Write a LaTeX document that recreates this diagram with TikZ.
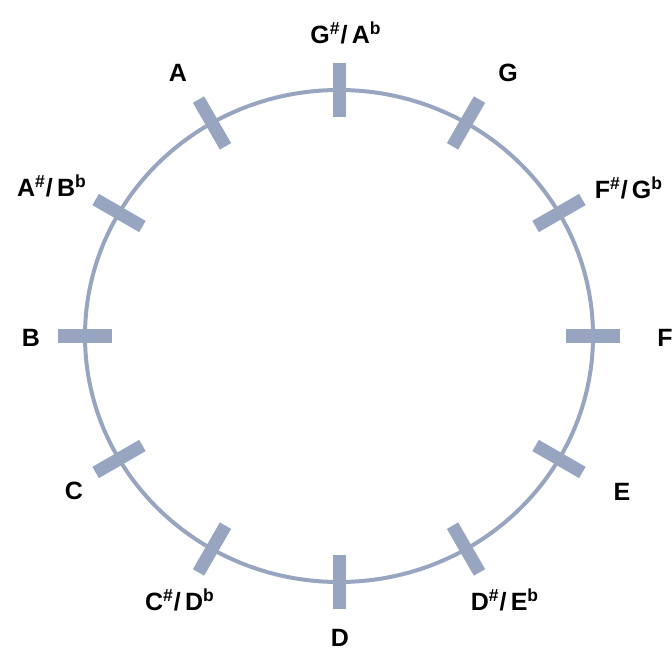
\documentclass[tikz,border=0pt]{standalone}
\usepackage{fontspec}
\setmainfont{Liberation Sans}
\definecolor{ringblue}{HTML}{97A5C0}
\newcommand{\notefont}{\fontsize{12.5}{14}\selectfont\bfseries}
\newcommand{\shp}{\textsuperscript{\#}}
\newcommand{\flt}{\textsuperscript{b}}
\begin{document}
\begin{tikzpicture}[
  x=0.5pt, y=0.5pt,
  ring/.style={draw=ringblue, line width=2pt},
  notch/.style={draw=ringblue, line width=6.5pt},
  note/.style={font=\notefont, inner sep=0pt}
]
  % Cadre de l'image (672 x 652 px)
  \useasboundingbox (-339,-316) rectangle (333,336);

  % Cercle des notes
  \draw[ring] (0,0) ellipse [x radius=254, y radius=246];

  % Traits tous les 30 degres
  \foreach \ang in {0,30,...,330}
    \draw[notch] ({254*cos(\ang)-27*cos(\ang)},{246*sin(\ang)-27*sin(\ang)})
      -- ({254*cos(\ang)+27*cos(\ang)},{246*sin(\ang)+27*sin(\ang)});

  % Noms des notes
  \node[note] (nGA) at (7,303)     {G\shp/\,A\flt};
  \node[note] (nG)  at (169,263)   {G};
  \node[note] (nFG) at (290,148)   {F\shp/\,G\flt};
  \node[note] (nF)  at (326,-2)    {F};
  \node[note] (nE)  at (283,-156)  {E};
  \node[note] (nDE) at (166,-264)  {D\shp/\,E\flt};
  \node[note] (nD)  at (1,-302)    {D};
  \node[note] (nCD) at (-159,-264) {C\shp/\,D\flt};
  \node[note] (nC)  at (-265,-155) {C};
  \node[note] (nB)  at (-308,-2)   {B};
  \node[note] (nAB) at (-287,150)  {A\shp/\,B\flt};
  \node[note] (nA)  at (-161,263)  {A};
\end{tikzpicture}
\end{document}
